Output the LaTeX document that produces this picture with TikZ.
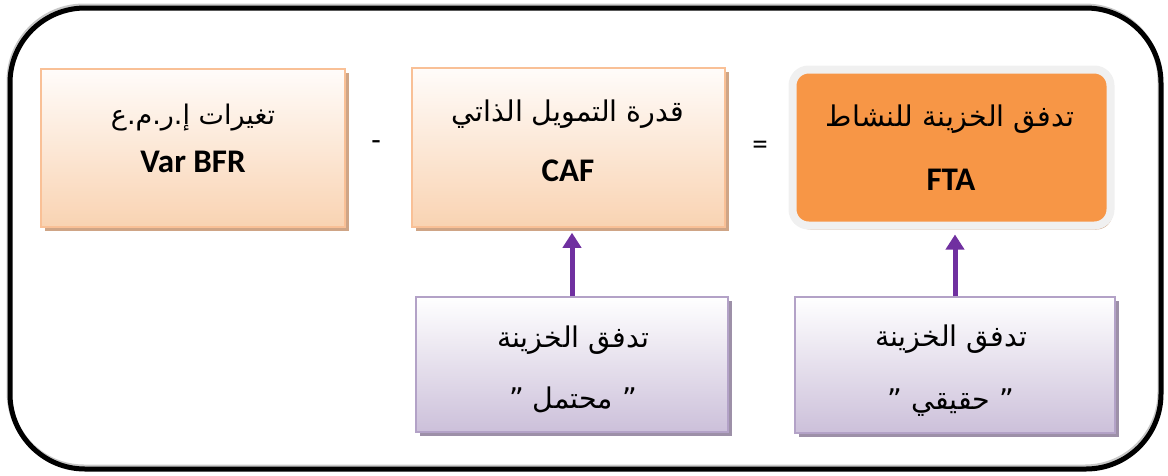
\documentclass[tikz,border=0pt]{standalone}
\usepackage{fontspec}
\setmainfont{Carlito}
\newfontfamily\arabicfont[Script=Arabic]{DejaVu Sans}
\TeXXeTstate=1
\usetikzlibrary{arrows.meta}
\definecolor{peachline}{HTML}{F9C096}
\definecolor{peachtop}{HTML}{FFFCFA}
\definecolor{peachbot}{HTML}{F9D3B2}
\definecolor{peachshadow}{HTML}{CFA586}
\definecolor{ftaorange}{HTML}{F79646}
\definecolor{ftaring}{HTML}{F0F0F0}
\definecolor{lavline}{HTML}{B3A2C7}
\definecolor{lavtop}{HTML}{FFFFFF}
\definecolor{lavbot}{HTML}{CCC0DA}
\definecolor{lavshadow}{HTML}{9D90A8}
\definecolor{arrowpurple}{HTML}{7030A0}
\definecolor{frameshadow}{HTML}{C8C8C8}
\tikzset{
  topbox/.style={draw=peachline, line width=1.5pt, top color=peachtop, bottom color=peachbot,
    preaction={fill=peachshadow, transform canvas={shift={(3.5pt,-3.5pt)}}},
    inner sep=0pt},
  lavbox/.style={draw=lavline, line width=1.5pt, top color=lavtop, bottom color=lavbot,
    preaction={fill=lavshadow, transform canvas={shift={(3.5pt,-3.5pt)}}},
    inner sep=0pt},
  ftabox/.style={draw=ftaring, line width=8pt, fill=ftaorange, rounded corners=16pt,
    preaction={fill=peachshadow, rounded corners=16pt, transform canvas={shift={(2pt,-4pt)}}},
    inner sep=0pt},
  artext/.style={inner sep=0pt, font=\arabicfont\fontsize{28.5}{32}\selectfont},
  entext/.style={inner sep=0pt, font=\bfseries\fontsize{33}{36}\selectfont},
  opsign/.style={font=\fontsize{31}{34}\selectfont, inner sep=0pt},
  uparrow/.style={draw=arrowpurple, line width=5pt, -{Triangle[width=18pt,length=15pt]}, shorten >=5pt},
}
\begin{document}
\begin{tikzpicture}[x=1pt,y=-1pt]
\useasboundingbox (0,0) rectangle (1168,475);
\draw[line width=5pt, rounded corners=75pt, frameshadow] (9,6) rectangle (1160,467);
\draw[line width=5pt, rounded corners=75pt] (10,8) rectangle (1161,469);
\node[topbox, minimum width=304pt, minimum height=158pt] (bfr) at (193,148) {};
\node[topbox, minimum width=313pt, minimum height=159pt] (caf) at (568.5,147.5) {};
\node[ftabox, minimum width=318pt, minimum height=156pt] (fta) at (951.5,147.5) {};
\node[lavbox, minimum width=312pt, minimum height=135pt] (pot) at (572,364.5) {};
\node[lavbox, minimum width=320pt, minimum height=136pt] (real) at (955,365) {};
\node[artext, font=\arabicfont\fontsize{27}{30}\selectfont] (bfrar) at (193,118) {\beginR تغيرات إ.ر.م.ع\endR};
\node[entext] (bfren) at (193,162) {Var BFR};
\node[artext] (cafar) at (568,114) {\beginR قدرة التمويل الذاتي\endR};
\node[entext] (cafen) at (568,171) {CAF};
\node[artext] (ftaar) at (950,119) {\beginR تدفق الخزينة للنشاط\endR};
\node[entext] (ftaen) at (951,180) {FTA};
\node[artext] (potar) at (573,340) {\beginR تدفق الخزينة\endR};
\node[artext] (potq) at (573,400) {\beginR ” محتمل ”\endR};
\node[artext] (realar) at (951,339) {\beginR تدفق الخزينة\endR};
\node[artext] (realq) at (951,403) {\beginR ” حقيقي ”\endR};
\node[opsign] (minus) at (376,146) {-};
\node[opsign] (equal) at (760,148) {=};
\draw[uparrow] (pot.north) -- (pot.north |- caf.south);
\draw[uparrow] (real.north) -- (real.north |- fta.south);
\end{tikzpicture}
\end{document}
